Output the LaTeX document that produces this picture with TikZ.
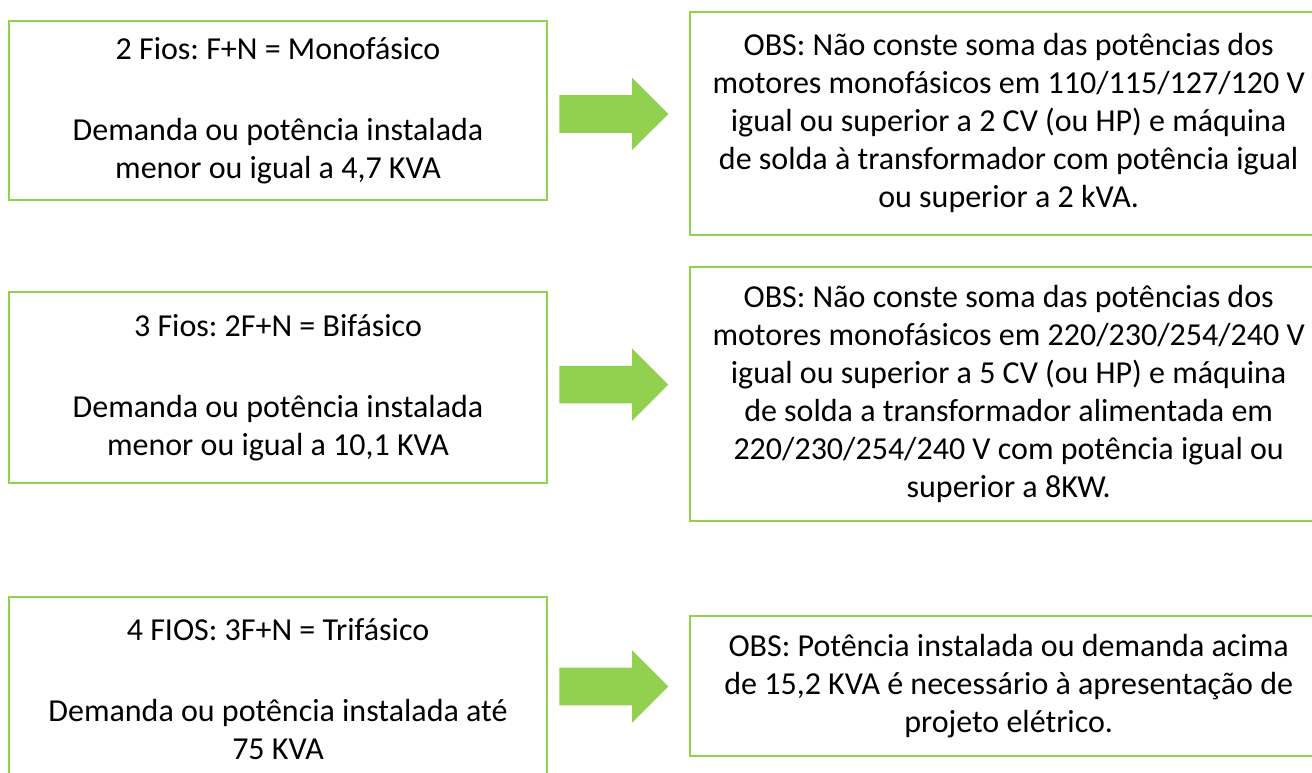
\documentclass[tikz,border=0pt]{standalone}
\usepackage{fontspec}
\setmainfont{Carlito}
\frenchspacing
\usetikzlibrary{positioning, shapes.arrows}
\definecolor{leaf}{HTML}{92D050}
\definecolor{textmain}{HTML}{000000}

\begin{document}
\begin{tikzpicture}[
        x=0.75pt, y=-0.75pt,
        box/.style={rectangle, draw=leaf, line width=1.5pt, text=textmain,
                  align=center, inner sep=0pt, minimum width=403.5pt,
                  font=\fontsize{24}{28.5}\selectfont},
        obs/.style={box, minimum width=478.5pt},
        fat/.style={single arrow, fill=leaf, draw=none, inner xsep=0pt,
                  inner ysep=13.9pt, minimum height=81.75pt, minimum width=54pt,
                  single arrow head extend=13.1pt, single arrow tip angle=90}
      ]
        \useasboundingbox (0,0) rectangle (1312,773);
        \clip (0,0) rectangle (1312,773);
        % left column
        \node[box, minimum height=134.25pt] (mono) at (278,110.5)
          {2 Fios: F+N = Monofásico\\[32pt]Demanda ou potência instalada\\menor ou igual a 4,7 KVA};
        \node[box, minimum height=143.25pt] (bi) at (278,387.5)
          {3 Fios: 2F+N = Bifásico\\[32pt]Demanda ou potência instalada\\menor ou igual a 10,1 KVA};
        \node[box, minimum height=138pt] (tri) at (278,689)
          {4 FIOS: 3F+N = Trifásico\\[32pt]Demanda ou potência instalada até\\75 KVA};
        % arrows
        \node[fat, right=8.25pt of mono, yshift=-2.6pt] (a1) {};
        \node[fat, right=8.25pt of bi, yshift=2.2pt] (a2) {};
        \node[fat, right=8.25pt of tri, yshift=1.9pt] (a3) {};
        % right column
        \node[obs, minimum height=167.25pt, right=15pt of a1, yshift=-7.1pt] (n1)
          {OBS: Não conste soma das potências dos\\motores monofásicos em 110/115/127/120 V\\igual ou superior a 2 CV (ou HP) e máquina\\de solda à transformador com potência igual\\ou superior a 2 kVA.};
        \node[obs, minimum height=190.5pt, right=15pt of a2, yshift=-7.1pt] (n2)
          {OBS: Não conste soma das potências dos\\motores monofásicos em 220/230/254/240 V\\igual ou superior a 5 CV (ou HP) e máquina\\de solda a transformador alimentada em\\220/230/254/240 V com potência igual ou\\superior a 8KW.};
        \node[obs, minimum height=105pt, right=15pt of a3] (n3)
          {OBS: Potência instalada ou demanda acima\\de 15,2 KVA é necessário à apresentação de\\projeto elétrico.};
      \end{tikzpicture}
\end{document}
